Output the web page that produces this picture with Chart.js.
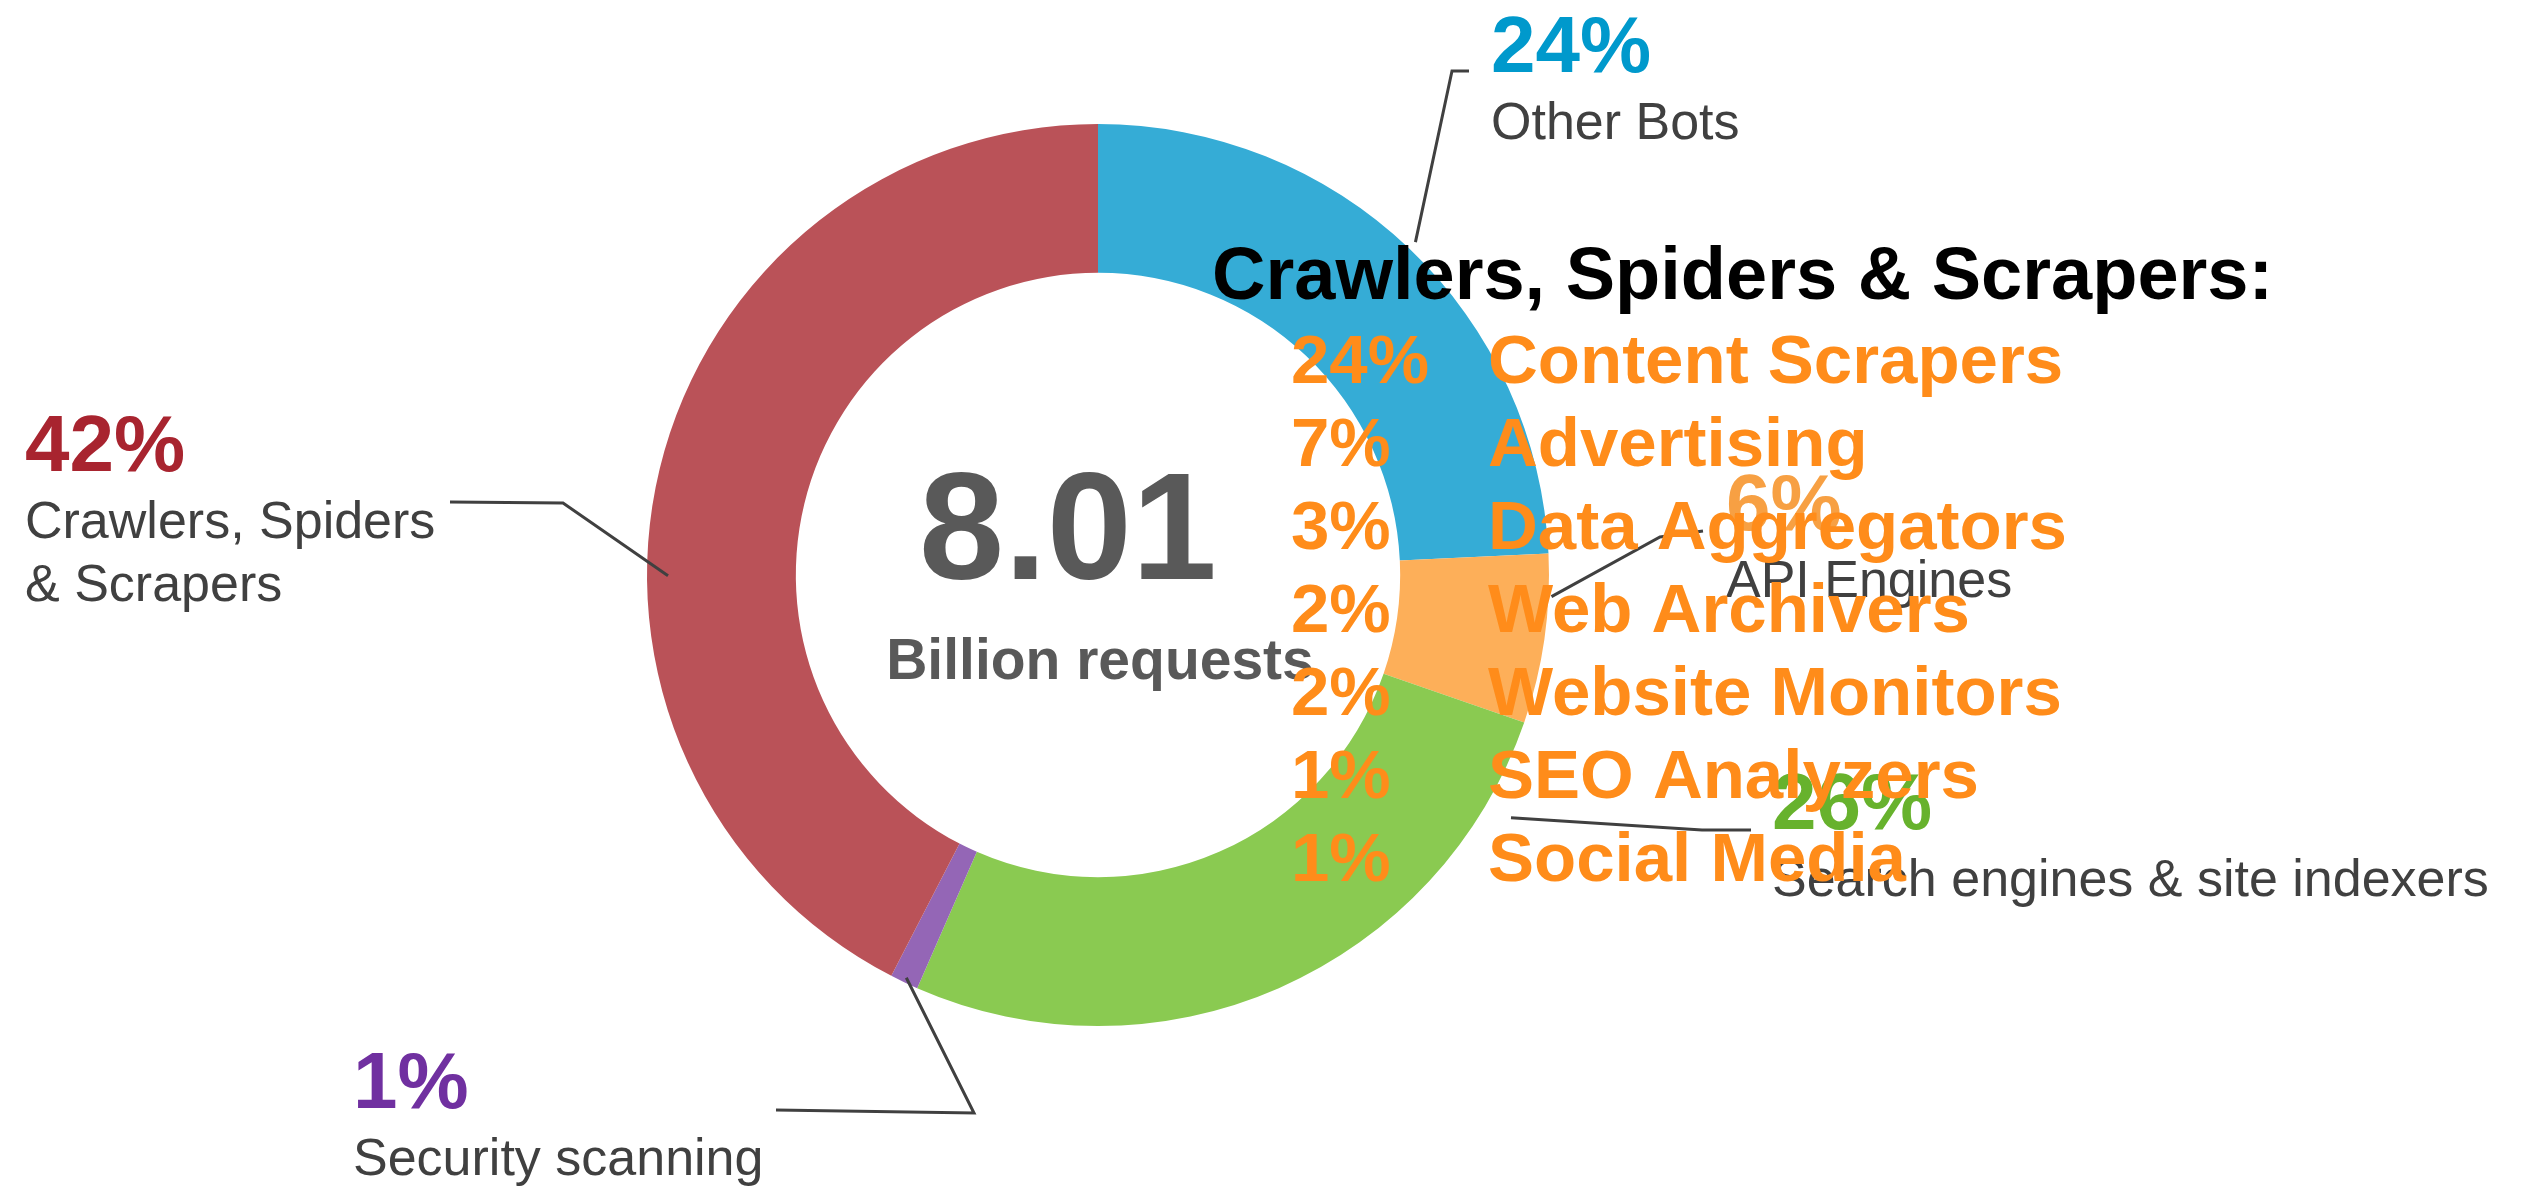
<!DOCTYPE html>
<html lang="en">

<head>
    <meta charset="UTF-8">
    <title>Bot traffic</title>
    <style>
        body { margin: 0; background: #fff; }
        canvas { display: block; }
    </style>
</head>

<body>
    <canvas id="grafico" width="2545" height="1188" style="width: 2545px; height: 1188px;"></canvas>

    <script src="https://cdn.jsdelivr.net/npm/chart.js"></script>
    <script>
        // ring segments, clockwise from 12 o'clock
        const categorias = ['Other Bots', 'API Engines', 'Search engines & site indexers', 'Security scanning', 'Crawlers, Spiders & Scrapers']
        const percentuais = [24, 6, 26, 1, 42]
        const totalRequests = '8.01'
        const totalUnidade = 'Billion requests'

        // breakdown of the crawlers group
        const tituloDetalhe = 'Crawlers, Spiders & Scrapers:'
        const detalheNomes = ['Content Scrapers', 'Advertising', 'Data Aggregators', 'Web Archivers', 'Website Monitors', 'SEO Analyzers', 'Social Media']
        const detalheValores = [24, 7, 3, 2, 2, 1, 1]

        const coresFatia = ['#35acd6', '#fdaf59', '#8aca51', '#9466b6', '#ba5258']
        const coresRotulo = ['#0099cc', '#f7a043', '#67b22d', '#7030a0', '#a8242f']

        const fonte = '"Liberation Sans", Arial, sans-serif'
        const cinzaTexto = '#404040'

        // label placement: text position, leader points near the text, where the leader meets its arc
        const rotulos = [
            { x: 1491, y: 72, linhas: ['Other Bots'], guia: [[1469, 71], [1452, 71]], frac: 0.5, raio: 460 },
            { x: 1726, y: 530, linhas: ['API Engines'], guia: [[1703, 531], [1660, 537]], frac: 0.25, raio: 454 },
            { x: 1772, y: 829, linhas: ['Search engines & site indexers'], guia: [[1751, 830], [1702, 830]], frac: 0.12, raio: 479 },
            { x: 353, y: 1108, linhas: ['Security scanning'], guia: [[776, 1110], [974, 1113]], frac: 0.5, raio: 446 },
            { x: 25, y: 471, linhas: ['Crawlers, Spiders', '& Scrapers'], guia: [[450, 502], [563, 503]], frac: 0.41, raio: 430 }
        ]

        const anotacoes = {
            id: 'anotacoes',
            afterDraw(chart) {
                const c = chart.ctx
                const arcos = chart.getDatasetMeta(0).data
                c.save()

                // center total
                const centro = arcos[0]
                c.fillStyle = '#595959'
                c.textAlign = 'center'
                c.textBaseline = 'alphabetic'
                c.font = 'bold 153px ' + fonte
                c.fillText(totalRequests, centro.x - 30, 579)
                c.font = 'bold 57px ' + fonte
                c.fillText(totalUnidade, centro.x + 2, 679)

                // leader lines
                c.strokeStyle = cinzaTexto
                c.lineWidth = 3
                rotulos.forEach((r, i) => {
                    const a = arcos[i]
                    const ang = a.startAngle + (a.endAngle - a.startAngle) * r.frac
                    const px = a.x + Math.cos(ang) * r.raio
                    const py = a.y + Math.sin(ang) * r.raio
                    c.beginPath()
                    c.moveTo(r.guia[0][0], r.guia[0][1])
                    c.lineTo(r.guia[1][0], r.guia[1][1])
                    c.lineTo(px, py)
                    c.stroke()
                })

                // outside labels
                c.textAlign = 'left'
                rotulos.forEach((r, i) => {
                    c.fillStyle = coresRotulo[i]
                    c.font = 'bold 80px ' + fonte
                    c.fillText(percentuais[i] + '%', r.x, r.y)
                    c.fillStyle = cinzaTexto
                    c.font = '52px ' + fonte
                    r.linhas.forEach((l, j) => c.fillText(l, r.x, r.y + 67 + j * 63))
                })

                // crawler breakdown on top
                c.fillStyle = '#000'
                c.font = 'bold 74px ' + fonte
                c.fillText(tituloDetalhe, 1212, 299)
                c.fillStyle = '#ff8c1a'
                c.font = 'bold 69px ' + fonte
                detalheNomes.forEach((nome, i) => {
                    const y = 383 + i * 83
                    c.fillText(detalheValores[i] + '%', 1291, y)
                    c.fillText(nome, 1488, y)
                })
                c.restore()
            }
        }

        const grafico = new Chart(document.getElementById('grafico'), {
            type: 'doughnut',
            data: {
                labels: categorias,
                datasets: [{
                    data: percentuais,
                    backgroundColor: coresFatia,
                    borderWidth: 0,
                    hoverOffset: 0
                }]
            },
            options: {
                responsive: false,
                animation: false,
                cutout: '67%',
                layout: { padding: { left: 647, right: 996, top: 124, bottom: 162 } },
                plugins: {
                    legend: { display: false },
                    tooltip: { enabled: false }
                }
            },
            plugins: [anotacoes]
        })
    </script>
</body>

</html>
